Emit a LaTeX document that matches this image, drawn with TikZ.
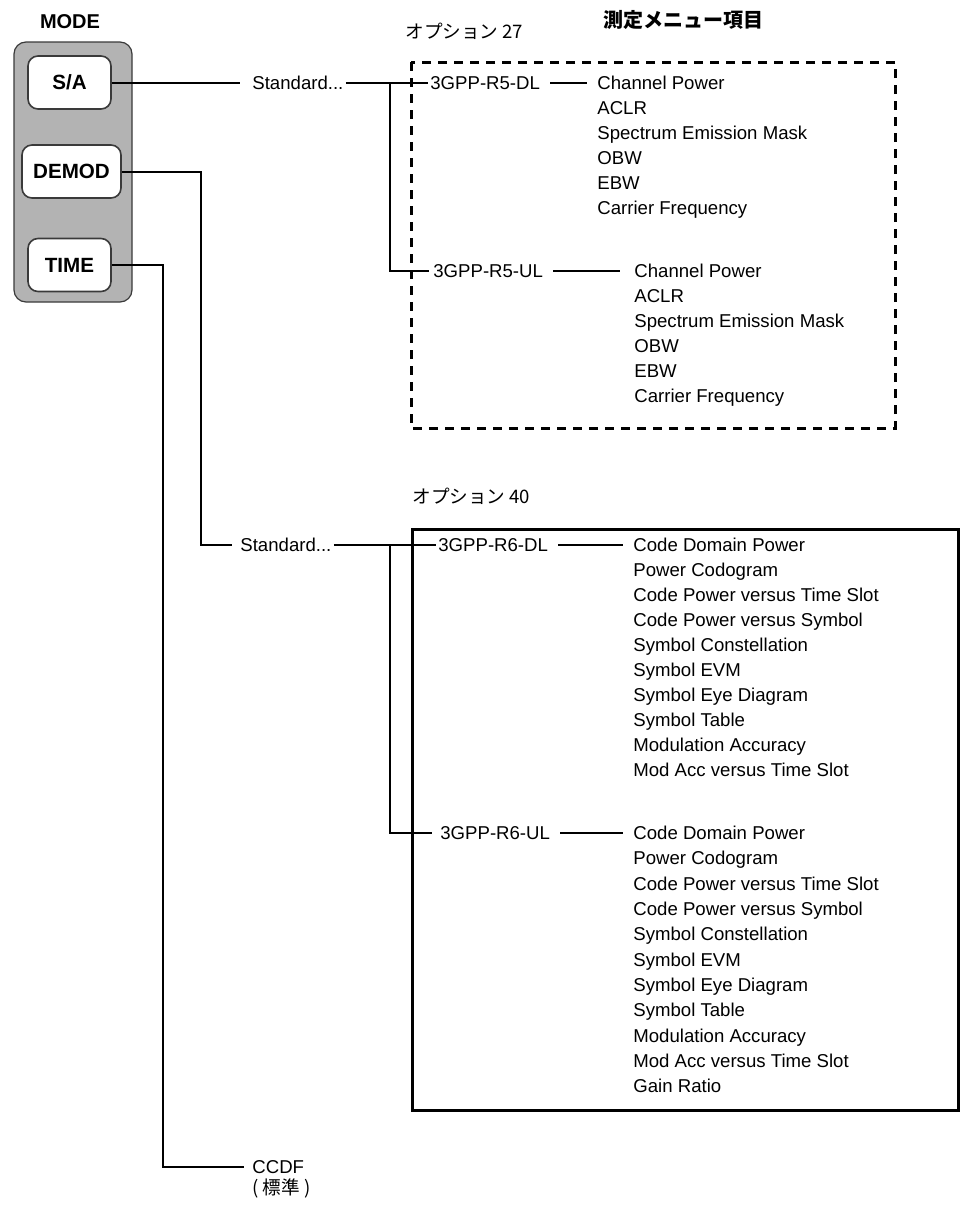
\documentclass[tikz,border=0pt]{standalone}
\usepackage{fontspec}
\setmainfont{Liberation Sans}
\newfontfamily\cjk{Noto Sans CJK JP}
\usetikzlibrary{positioning, calc}
\definecolor{mdPanel}{HTML}{B3B3B3}
\definecolor{mdEdge}{HTML}{3A3A3A}
\tikzset{
  mdtext/.style={inner sep=0pt, anchor=west, text height=6.6pt, text depth=0pt,
    font=\fontsize{9.3}{11}\selectfont},
  jtext/.style={mdtext, font=\fontsize{9.3}{11}\selectfont\cjk},
  mdkey/.style={draw=mdEdge, fill=white, rounded corners=5pt, line width=0.8pt,
    minimum height=26.5pt, font=\fontsize{10.3}{12}\selectfont\bfseries},
  mdpanel/.style={draw=mdEdge, fill=mdPanel, rounded corners=6pt, line width=0.6pt},
  wire/.style={line width=1pt, black},
  optbox/.style={line width=1.5pt, black},
  optdash/.style={optbox, dash pattern=on 4.5pt off 3.5pt}
}
\begin{document}
\begin{tikzpicture}[x=0.5pt, y=-0.5pt]
  \useasboundingbox (0,0) rectangle (971,1205);
  % mode keys
  \node[font=\fontsize{10}{12}\selectfont\bfseries] (mode) at (70,22) {MODE};
  \draw[mdpanel] (14,42) rectangle (132,302);
  \node[mdkey, minimum width=41.5pt] (sa) at (69.5,82.5) {S/A};
  \node[mdkey, minimum width=49.5pt] (demod) at (71.5,171.5) {DEMOD};
  \node[mdkey, minimum width=41.5pt] (time) at (69.5,265) {TIME};

  % headings
  \node[font=\fontsize{10}{12}\selectfont\cjk\bfseries, inner sep=0pt] (menu) at (683,20) {測定メニュー項目};
  \node[jtext] (opt27) at (405,32) {オプション 27};
  \node[jtext] (opt40) at (412,497) {オプション 40};

  % option 27
  \draw[optdash] (411,62) rectangle (895,428);
  \node[mdtext] (std1) at (252,82.5) {Standard...};
  \coordinate (j1) at (390,82.5);
  \node[mdtext] (r5dl) at (430,82.5) {3GPP-R5-DL};
  \node[mdtext] (r5ul) at (433,271) {3GPP-R5-UL};
  \foreach \t [count=\i from 0] in {Channel Power, ACLR, Spectrum Emission Mask, OBW, EBW, Carrier Frequency}
    \node[mdtext] (dl5-\i) at (597,{82.5+25*\i}) {\t};
  \foreach \t [count=\i from 0] in {Channel Power, ACLR, Spectrum Emission Mask, OBW, EBW, Carrier Frequency}
    \node[mdtext] (ul5-\i) at (634,{271+25*\i}) {\t};
  \draw[wire] (sa.east) -- ([xshift=-6pt]std1.west);
  \draw[wire] ([xshift=1pt]std1.east) -- ([xshift=-1pt]r5dl.west);
  \draw[wire] (j1) |- ([xshift=-2pt]r5ul.west);
  \draw[wire] ([xshift=5pt]r5dl.east) -- ([xshift=-5pt]dl5-0.west);
  \draw[wire] ([xshift=5pt]r5ul.east) -- ([xshift=-7pt]ul5-0.west);

  % option 40
  \draw[optbox] (412,529) rectangle (958,1110);
  \coordinate (d1) at (201,545);
  \node[mdtext] (std2) at (240,545) {Standard...};
  \coordinate (j2) at (390,545);
  \node[mdtext] (r6dl) at (438,545) {3GPP-R6-DL};
  \node[mdtext] (r6ul) at (440,833) {3GPP-R6-UL};
  \foreach \t [count=\i from 0] in {Code Domain Power, Power Codogram, Code Power versus Time Slot,
      Code Power versus Symbol, Symbol Constellation, Symbol EVM, Symbol Eye Diagram, Symbol Table,
      Modulation Accuracy, Mod Acc versus Time Slot}
    \node[mdtext] (dl6-\i) at (633,{545+25*\i}) {\t};
  \foreach \t [count=\i from 0] in {Code Domain Power, Power Codogram, Code Power versus Time Slot,
      Code Power versus Symbol, Symbol Constellation, Symbol EVM, Symbol Eye Diagram, Symbol Table,
      Modulation Accuracy, Mod Acc versus Time Slot, Gain Ratio}
    \node[mdtext] (ul6-\i) at (633,{833+25.3*\i}) {\t};
  \draw[wire] (demod.east) -| (d1) -- ([xshift=-4pt]std2.west);
  \draw[wire] ([xshift=1pt]std2.east) -- ([xshift=-1pt]r6dl.west);
  \draw[wire] (j2) |- ([xshift=-4pt]r6ul.west);
  \draw[wire] ([xshift=5pt]r6dl.east) -- ([xshift=-5pt]dl6-0.west);
  \draw[wire] ([xshift=5pt]r6ul.east) -- ([xshift=-5pt]ul6-0.west);

  % time
  \coordinate (t1) at (163,1167);
  \node[mdtext] (ccdf) at (252,1167) {CCDF};
  \node[jtext] (ccdfstd) at (252,1188) {( 標準 )};
  \draw[wire] (time.east) -| (t1) -- ([xshift=-4pt]ccdf.west);
\end{tikzpicture}
\end{document}
